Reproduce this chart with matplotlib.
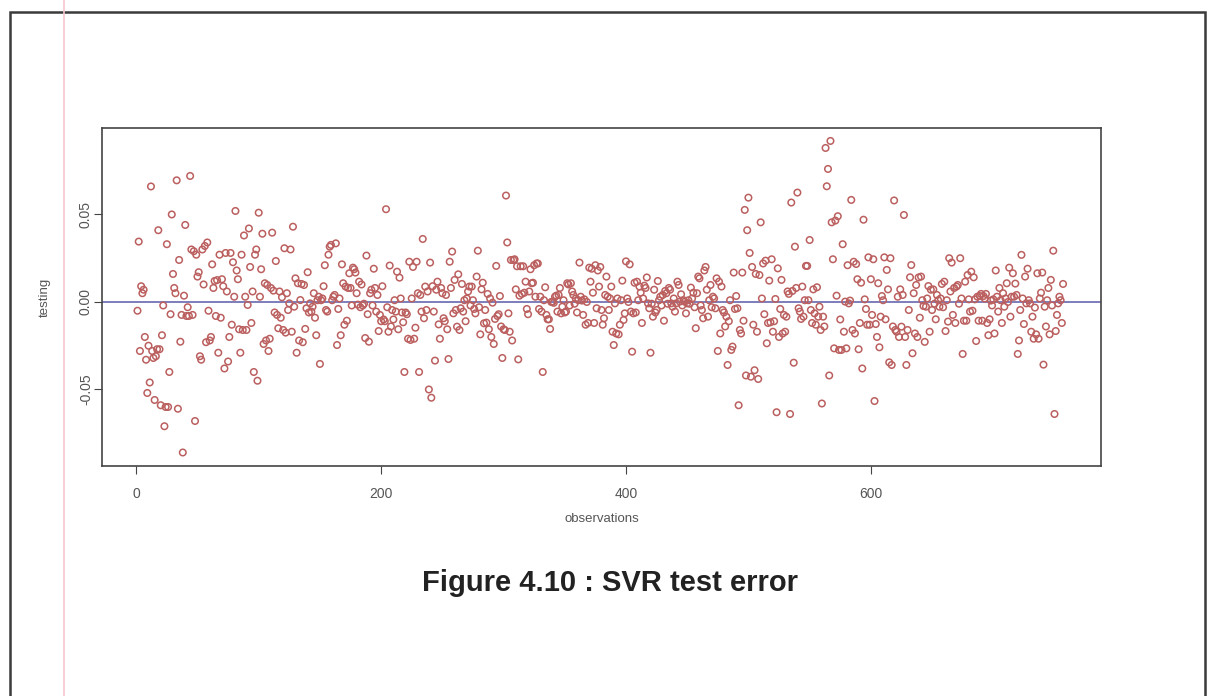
import matplotlib
matplotlib.use("Agg")
import matplotlib.pyplot as plt
import numpy as np
from matplotlib.patches import Rectangle
from matplotlib.lines import Line2D

testing = [
    -0.005, 0.0345, -0.028, 0.009, 0.005, 0.007, -0.020, -0.033, -0.052, -0.025,
    -0.046, 0.066, -0.028, -0.032, -0.056, -0.031, -0.027, 0.041, -0.027, -0.059,
    -0.019, -0.002, -0.071, -0.060, 0.033, -0.060, -0.040, -0.007, 0.050, 0.016,
    0.008, 0.005, 0.0695, -0.061, 0.024, -0.0227, -0.0074, -0.086, 0.0036, 0.044,
    -0.008, -0.003, -0.008, 0.072, 0.030, -0.0074, 0.029, -0.068, 0.027, 0.0145,
    0.017, -0.031, -0.033, 0.030, 0.010, 0.032, -0.023, 0.034, -0.005, -0.022,
    -0.020, 0.0215, 0.008, 0.012, -0.008, 0.0125, -0.029, 0.027, -0.009, 0.013,
    0.009, -0.038, 0.028, 0.006, -0.034, -0.020, 0.028, -0.013, 0.0227, 0.003,
    0.052, 0.018, 0.013, -0.0156, -0.029, 0.027, -0.016, 0.038, 0.003, -0.016,
    -0.0017, 0.042, 0.020, -0.012, 0.006, -0.040, 0.027, 0.030, -0.045, 0.051,
    0.003, 0.0187, 0.039, -0.024, 0.0107, -0.022, 0.0097, -0.028, -0.021, 0.008,
    0.0396, 0.0065, -0.006, 0.0234, -0.0074, -0.015, 0.006, -0.009, 0.0027, -0.016,
    0.0307, -0.0175, 0.005, -0.0046, -0.0008, 0.030, -0.017, 0.043, -0.0027, 0.0135,
    -0.029, 0.0107, -0.022, 0.0011, 0.0103, -0.023, 0.0097, -0.0154, -0.0036, 0.017,
    -0.006, -0.0008, -0.0055, -0.0027, 0.005, -0.009, -0.019, 0.001, 0.003, -0.0354,
    0.001, 0.002, 0.009, 0.021, -0.0046, -0.0055, 0.027, 0.0316, 0.0326, 0.001,
    0.003, 0.004, 0.0335, -0.0246, -0.004, 0.002, -0.019, 0.0215, 0.0107, -0.013,
    0.0088, -0.0107, 0.008, 0.0164, 0.008, -0.002, 0.0196, 0.0187, 0.0168, 0.005,
    -0.0015, 0.0116, -0.003, 0.010, -0.002, -0.001, -0.0206, 0.0265, -0.007, -0.0227,
    0.005, 0.007, -0.002, 0.019, 0.008, -0.0055, 0.004, -0.0166, -0.0074, -0.011,
    0.009, -0.010, -0.011, 0.053, -0.003, -0.017, 0.0208, -0.014, -0.0046, -0.010,
    0.001, -0.0055, 0.0173, -0.0156, 0.0139, 0.002, -0.006, -0.0116, -0.040, -0.006,
    -0.007, -0.021, 0.023, -0.0217, 0.002, 0.020, -0.021, -0.0147, 0.023, 0.005,
    -0.040, 0.004, -0.0055, 0.036, -0.0093, 0.0088, -0.0046, 0.006, -0.050, 0.0225,
    -0.0547, 0.009, -0.0055, -0.0335, 0.007, 0.0116, -0.0128, -0.021, 0.008, 0.005,
    -0.0093, -0.011, 0.004, -0.0156, -0.0326, 0.023, 0.008, 0.0288, -0.0065, 0.0126,
    -0.0046, -0.0141, 0.0158, -0.016, -0.0036, 0.0103, -0.0055, 0.001, -0.011, 0.002,
    0.006, 0.0088, -0.002, 0.0088, 0.001, -0.004, -0.0065, 0.0145, 0.0293, -0.003,
    -0.0185, 0.0072, 0.011, -0.0122, -0.0046, -0.0118, 0.0046, -0.0156, 0.002, -0.020,
    -0.0004, -0.024, -0.0097, 0.0206, -0.008, -0.007, 0.0034, -0.014, -0.032, -0.0156,
    -0.016, 0.0608, 0.034, -0.0065, -0.017, 0.024, -0.022, 0.024, 0.0244, 0.0072,
    0.0204, -0.0328, 0.0036, 0.0204, 0.0046, 0.0204, 0.0053, 0.0116, -0.004, -0.007,
    0.006, 0.0187, 0.0107, 0.011, 0.021, 0.003, 0.022, 0.022, -0.004, 0.003,
    -0.0055, -0.040, 0.001, 0.0084, -0.0074, -0.0099, -0.0099, -0.0154, 0.000, 0.0002,
    -0.0005, 0.003, 0.0036, -0.0055, 0.004, 0.008, -0.0065, -0.0027, 0.001, -0.006,
    -0.0055, 0.0107, 0.010, -0.002, 0.0107, 0.006, 0.004, -0.001, 0.002, -0.006,
    0.001, 0.0225, 0.003, 0.0008, -0.0074, 0.0015, -0.013, 0.000, -0.012, 0.0196,
    0.0116, 0.019, 0.0053, -0.012, 0.021, -0.0036, 0.018, 0.0088, 0.020, -0.0046,
    -0.013, -0.0093, 0.004, 0.0145, 0.003, -0.0046, 0.002, 0.0088, -0.017, -0.0246,
    -0.0008, -0.018, 0.002, -0.0185, -0.013, 0.001, 0.0122, -0.0103, -0.0065, 0.0232,
    0.002, 0.000, 0.0215, -0.0055, -0.0284, -0.0065, 0.011, -0.006, 0.0116, 0.001,
    0.0088, 0.0053, -0.012, 0.002, 0.0093, 0.008, 0.014, -0.0008, -0.0036, -0.029,
    -0.001, -0.0084, 0.007, -0.006, -0.0046, 0.012, 0.001, 0.003, -0.002, 0.004,
    -0.0107, 0.0063, 0.005, -0.001, 0.008, 0.007, -0.0008, -0.0027, 0.002, -0.0055,
    -0.0008, 0.0116, 0.0097, 0.0002, 0.0044, -0.002, 0.001, 0.0002, -0.0065, -0.0008,
    0.001, -0.001, 0.0082, 0.002, 0.0053, -0.003, -0.015, 0.005, 0.0145, 0.0135,
    -0.002, -0.0046, -0.0093, 0.018, 0.020, 0.007, -0.0084, 0.001, 0.0097, -0.003,
    0.003, 0.002, -0.0036, 0.0135, -0.028, 0.0116, -0.018, 0.0088, -0.0046, -0.006,
    -0.014, -0.0084, -0.036, -0.011, 0.001, -0.0274, -0.0255, 0.0168, -0.004, 0.0034,
    -0.0036, -0.059, -0.016, -0.018, 0.0168, -0.0107, 0.0526, -0.042, 0.041, 0.0596,
    0.028, -0.0427, 0.020, -0.013, -0.039, 0.016, -0.017, -0.044, 0.0154, 0.0455,
    0.002, 0.022, -0.007, 0.0236, -0.0236, -0.012, 0.0122, -0.0116, 0.0244, -0.017,
    -0.011, 0.0017, -0.063, 0.0192, -0.020, -0.004, 0.0126, -0.018, -0.0074, -0.017,
    -0.0084, 0.006, 0.0046, -0.064, 0.0568, 0.0063, -0.0347, 0.0316, 0.008, 0.0625,
    -0.0036, -0.0055, -0.0097, 0.0088, -0.0084, 0.001, 0.0206, 0.0206, 0.001, 0.0354,
    -0.0046, -0.012, 0.0072, -0.0065, -0.013, 0.0084, -0.0084, -0.0027, -0.016, -0.058,
    -0.0084, -0.014, 0.088, 0.0661, 0.076, -0.042, 0.092, 0.0455, 0.0244, -0.0265,
    0.0465, 0.0036, 0.049, -0.0274, -0.010, -0.0274, 0.033, -0.017, 0.0002, -0.0265,
    0.021, -0.0008, 0.0008, 0.0583, -0.016, 0.023, -0.018, 0.0217, 0.013, -0.027,
    -0.012, 0.011, -0.038, 0.047, 0.0015, -0.004, -0.013, 0.0255, -0.013, 0.013,
    -0.0074, 0.0244, -0.0566, -0.0126, -0.020, 0.0107, -0.0259, -0.0084, 0.0034, 0.001,
    0.0255, -0.0099, 0.0183, 0.0072, -0.0345, 0.025, -0.036, -0.014, 0.058, -0.016,
    -0.017, 0.003, -0.020, 0.0072, -0.0141, 0.004, 0.0497, -0.020, -0.036, -0.016,
    -0.0046, 0.0141, 0.0211, -0.0293, 0.005, -0.018, 0.0097, -0.020, 0.014, -0.009,
    0.0145, 0.001, -0.0023, -0.0228, -0.0027, 0.002, 0.0091, -0.017, 0.007, -0.0046,
    0.0072, -0.001, -0.0099, 0.004, 0.001, -0.0027, 0.002, 0.0103, -0.003, 0.0116,
    -0.0166, 0.001, -0.0112, 0.025, 0.006, 0.0225, -0.0074, 0.008, -0.012, 0.0088,
    0.0097, -0.001, 0.025, 0.002, -0.0297, -0.0107, 0.0116, -0.0107, 0.0154, 0.0015,
    -0.0055, 0.0173, -0.005, 0.0141, 0.0015, -0.0223, 0.003, -0.0107, 0.0034, 0.0046,
    -0.0107, 0.0034, 0.002, 0.0046, -0.012, -0.019, -0.0099, 0.0008, -0.002, 0.0015,
    -0.018, 0.018, 0.003, -0.0055, 0.008, 0.001, -0.012, 0.005, -0.0027, 0.002,
    0.0107, 0.000, 0.0196, -0.0084, 0.003, 0.0164, 0.003, 0.0105, 0.004, -0.0297,
    -0.022, -0.0046, 0.0269, 0.002, -0.0126, 0.0145, -0.0008, 0.019, 0.001, -0.0008,
    -0.017, -0.0084, -0.021, -0.0032, -0.0185, 0.0164, -0.021, 0.002, 0.0053, 0.0168,
    -0.0358, -0.0027, -0.014, 0.001, 0.008, -0.0185, 0.0126, -0.002, 0.0293, -0.064,
    -0.0166, -0.0074, -0.0008, 0.003, 0.001, -0.012, 0.0103,
]
observations = np.arange(1, len(testing) + 1)

x_ticks = [0, 200, 400, 600]
y_ticks = [-0.05, 0.00, 0.05]
y_ticklabels = ["-0.05", "0.00", "0.05"]

plt.rcParams['font.family'] = ['Liberation Sans', 'DejaVu Sans']

fig = plt.figure(figsize=(12.17, 6.96), dpi=100)
fig.patch.set_facecolor('white')

# page frame and the pink margin line of the scanned page
fig.add_artist(Rectangle((0.0082, -0.02), 0.9818, 1.0028, transform=fig.transFigure,
                         fill=False, edgecolor='#3a3a3a', linewidth=1.8))
fig.add_artist(Line2D([0.0526, 0.0526], [0, 1], transform=fig.transFigure,
                      color='#f7c6d2', linewidth=1.2))

ax = fig.add_axes([0.0838, 0.3305, 0.8209, 0.4856])
ax.scatter(observations, testing, s=22, facecolors='none', edgecolors='#bb5f5f',
           linewidths=1.1, zorder=3)
ax.axhline(0, color='#5a5aa8', linewidth=1.1, zorder=2)

ax.set_xlim(-28, 788)
ax.set_ylim(-0.0937, 0.0994)

ax.set_xticks(x_ticks)
ax.set_xticklabels([str(t) for t in x_ticks])
ax.set_yticks(y_ticks)
ax.set_yticklabels(y_ticklabels, rotation=90, va='center')
ax.tick_params(direction='out', length=6, width=0.8, colors='#444444',
               labelsize=10, labelcolor='#555555')
ax.tick_params(axis='x', pad=9)
ax.tick_params(axis='y', pad=0.5)

for sp in ax.spines.values():
    sp.set_color('#444444')
    sp.set_linewidth(1.2)

ax.set_xlabel("observations", fontsize=9.5, color='#555555', labelpad=9)
ax.set_ylabel("testing", fontsize=9.5, color='#555555', labelpad=20)

fig.text(0.5015, 0.163, "Figure 4.10 : SVR test error", ha='center', va='center',
         fontsize=21, fontweight='bold', color='#222222')

fig.savefig("out.png", dpi=100, facecolor='white')
